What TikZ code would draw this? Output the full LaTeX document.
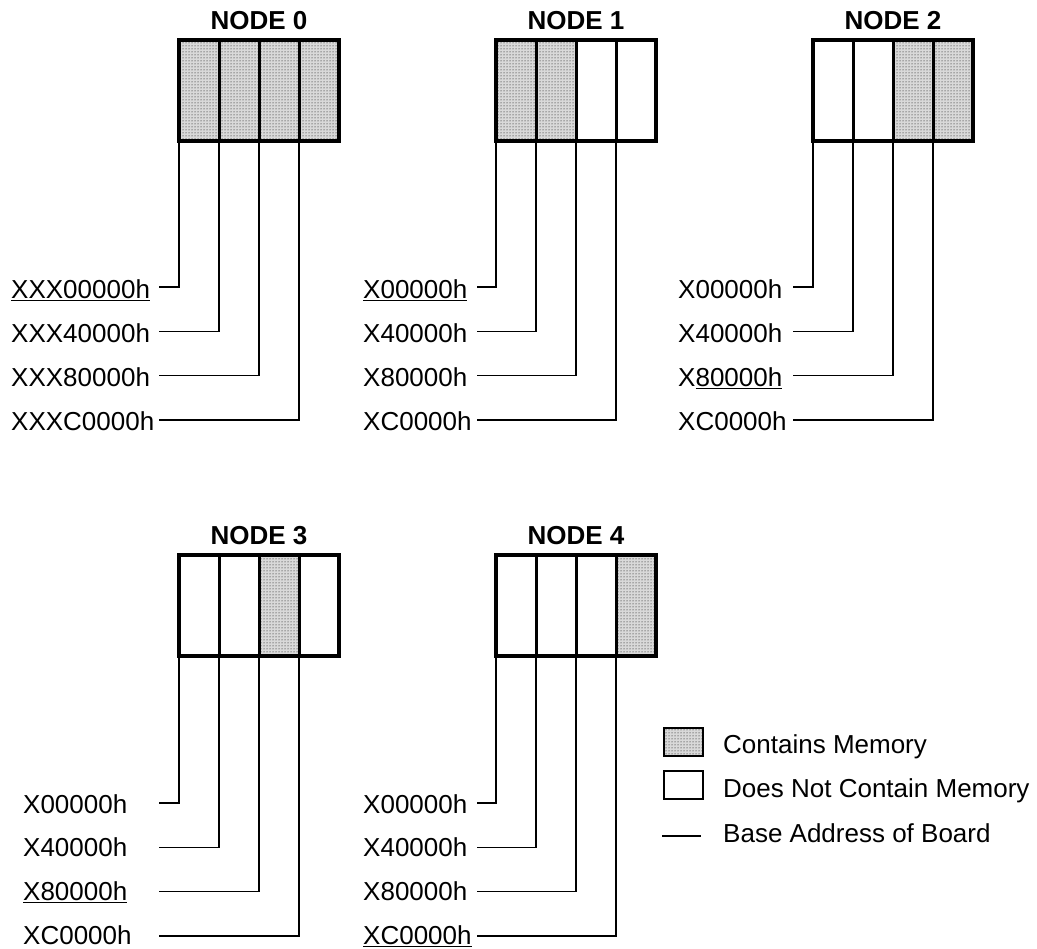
\documentclass[tikz,border=0pt]{standalone}
\usepackage{fontspec}
\setmainfont{Liberation Sans}
\usetikzlibrary{patterns}
\tikzset{
  x=1pt, y=-1pt,
  cell/.style={draw, line width=3pt, inner sep=0pt, outer sep=0pt, minimum width=40pt, minimum height=101pt},
  mem/.style={preaction={fill=gray!30}, pattern=dots, pattern color=black},
  nomem/.style={fill=white},
  frame/.style={draw, line width=4pt, line join=miter},
  conn/.style={draw, line width=1.8pt},
  boardtitle/.style={font=\fontsize{26}{31}\selectfont\bfseries, anchor=base, inner sep=0pt},
  lbl/.style={font=\fontsize{26}{31}\selectfont, anchor=base west, inner sep=0pt},
  legbox/.style={draw, line width=2pt, inner sep=0pt, outer sep=0pt, minimum width=39pt, minimum height=28pt},
}
% #1 name, #2 x left, #3 y top, #4 title, #5-#8 cell styles
\newcommand\memboard[8]{%
  \node[boardtitle] (#1t) at (#2+80,#3-10) {#4};
  \node[cell,#5] (#1c1) at (#2+20,#3+50.5) {};
  \node[cell,#6] (#1c2) at (#2+60,#3+50.5) {};
  \node[cell,#7] (#1c3) at (#2+100,#3+50.5) {};
  \node[cell,#8] (#1c4) at (#2+140,#3+50.5) {};
  \draw[frame] (#1c1.north west) rectangle (#1c4.south east);
}
\newcommand\lbloff{12}
% #1 name, #2 label x, #3 line start x, #4 first line y, #5-#8 labels
\newcommand\memlabels[8]{%
  \node[lbl] (#1l1) at (#2,#4+\lbloff) {#5};
  \node[lbl] (#1l2) at (#2,#4+\lbloff+43.7) {#6};
  \node[lbl] (#1l3) at (#2,#4+\lbloff+87.4) {#7};
  \node[lbl] (#1l4) at (#2,#4+\lbloff+131.1) {#8};
  \coordinate (#1a1) at (#3,#4);
  \coordinate (#1a2) at (#3,#4+44.5);
  \coordinate (#1a3) at (#3,#4+88.5);
  \coordinate (#1a4) at (#3,#4+133);
  \draw[conn] (#1a1) -| (#1c1.south west);
  \draw[conn] (#1a2) -| (#1c2.south west);
  \draw[conn] (#1a3) -| (#1c3.south west);
  \draw[conn] (#1a4) -| (#1c4.south west);
}
\begin{document}
\begin{tikzpicture}
\useasboundingbox[fill=white] (0,0) rectangle (1037,949);

\memboard{nA}{179}{40}{NODE 0}{mem}{mem}{mem}{mem}
\memboard{nB}{496}{40}{NODE 1}{mem}{mem}{nomem}{nomem}
\memboard{nC}{813}{40}{NODE 2}{nomem}{nomem}{mem}{mem}
\memboard{nD}{179}{555}{NODE 3}{nomem}{nomem}{mem}{nomem}
\memboard{nE}{496}{555}{NODE 4}{nomem}{nomem}{nomem}{mem}

\memlabels{nA}{11}{159}{287}{\underline{XXX00000h}}{XXX40000h}{XXX80000h}{XXXC0000h}
\memlabels{nB}{363}{477}{287}{\underline{X00000h}}{X40000h}{X80000h}{XC0000h}
\memlabels{nC}{678}{793}{287}{X00000h}{X40000h}{X\underline{80000h}}{XC0000h}
\renewcommand\lbloff{10}
\memlabels{nD}{23}{159}{803}{X00000h}{X40000h}{\underline{X80000h}}{XC0000h}
\memlabels{nE}{363}{477}{803}{X00000h}{X40000h}{X80000h}{\underline{XC0000h}}

% legend
\node[legbox,mem] (legm) at (683,741.5) {};
\node[legbox,nomem] (lege) at (683,785) {};
\coordinate (legla) at (662,836);
\coordinate (leglb) at (701,836);
\draw[conn] (legla) -- (leglb);
\node[lbl] (legmt) at (723,753) {Contains Memory};
\node[lbl] (leget) at (723,797) {Does Not Contain Memory};
\node[lbl] (leglt) at (723,842) {Base Address of Board};
\end{tikzpicture}
\end{document}
